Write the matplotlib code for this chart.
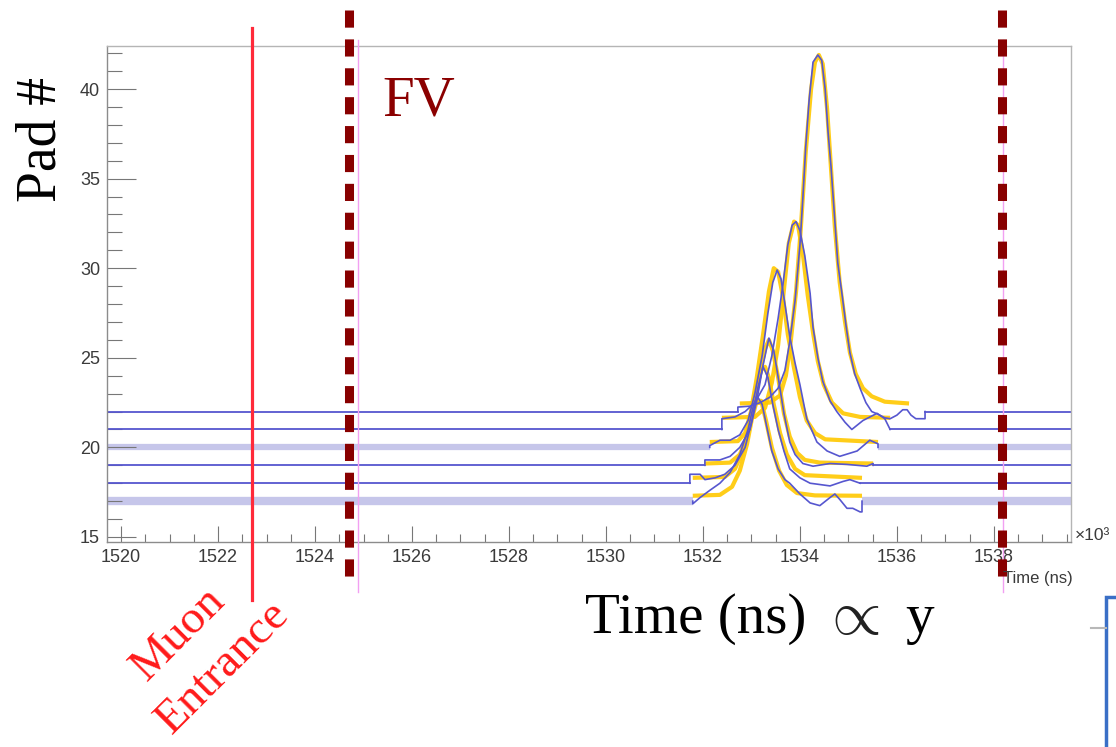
import matplotlib.pyplot as plt
from matplotlib.patches import Rectangle
from matplotlib.lines import Line2D

# axis range of the ROOT canvas (time axis is in ns, labels x10^3)
x_lo, x_hi = 1519.71, 1539.59
y_lo, y_hi = 14.72, 42.4

# pads that saw the track, and their baselines
pads = [17, 18, 19, 20, 21, 22]
light_pads = [17, 20]   # these baselines are drawn as a wide pale band

# raw waveforms (blue), pad# + amplitude
t17 = [1531.79, 1531.94, 1532.14, 1532.35, 1532.56, 1532.76, 1532.93, 1533.03, 1533.11, 1533.22,
       1533.32, 1533.42, 1533.55, 1533.69, 1533.79, 1534.00, 1534.21, 1534.41, 1534.62, 1534.72,
       1534.82, 1534.97, 1535.09, 1535.24, 1535.28]
v17 = [16.85, 17.2, 17.6, 18.0, 18.6, 19.6, 21.0, 22.2, 22.9, 22.4,
       21.1, 19.8, 18.8, 18.2, 18.0, 17.4, 16.9, 16.75, 17.2, 17.4,
       17.1, 16.6, 16.6, 16.4, 16.4]

t18 = [1531.73, 1531.94, 1532.04, 1532.25, 1532.45, 1532.66, 1532.87, 1533.01, 1533.13, 1533.24,
       1533.34, 1533.44, 1533.55, 1533.67, 1533.79, 1534.00, 1534.21, 1534.35, 1534.62, 1534.89,
       1535.03, 1535.24]
v18 = [18.5, 18.5, 18.2, 18.3, 18.5, 19.0, 20.0, 21.5, 23.3, 24.5,
       23.9, 22.4, 21.0, 19.8, 18.8, 18.3, 18.0, 17.95, 17.85, 18.1,
       18.2, 18.0]

t19 = [1532.04, 1532.35, 1532.56, 1532.76, 1532.97, 1533.11, 1533.24, 1533.36, 1533.46, 1533.57,
       1533.67, 1533.79, 1533.90, 1534.06, 1534.27, 1534.62, 1534.97, 1535.38, 1535.51]
v19 = [19.3, 19.3, 19.5, 20.0, 21.0, 22.6, 24.6, 26.1, 25.4, 23.6,
       21.9, 20.3, 19.6, 19.1, 18.95, 19.1, 19.05, 18.95, 19.1]

t20 = [1532.14, 1532.35, 1532.56, 1532.76, 1532.93, 1533.07, 1533.22, 1533.34, 1533.44, 1533.53,
       1533.61, 1533.69, 1533.79, 1533.90, 1534.00, 1534.14, 1534.35, 1534.56, 1534.82, 1535.18,
       1535.44, 1535.61]
v20 = [20.1, 20.4, 20.4, 20.7, 21.5, 23.0, 25.1, 27.5, 29.2, 29.9,
       29.4, 28.0, 26.2, 24.7, 23.5, 21.6, 20.3, 19.8, 19.5, 19.8,
       20.4, 20.2]

t21 = [1532.39, 1532.66, 1532.87, 1533.07, 1533.28, 1533.42, 1533.55, 1533.65, 1533.75, 1533.84,
       1533.92, 1534.00, 1534.10, 1534.21, 1534.27, 1534.37, 1534.47, 1534.62, 1534.76, 1534.93,
       1535.07, 1535.30, 1535.59, 1535.75, 1535.86]
v21 = [21.6, 21.7, 22.0, 22.5, 23.5, 25.1, 27.2, 29.1, 31.3, 32.4,
       32.6, 32.1, 30.7, 28.6, 26.7, 25.0, 23.7, 22.6, 22.0, 21.4,
       21.0, 21.5, 21.9, 21.6, 21.0]

t22 = [1532.72, 1532.97, 1533.18, 1533.38, 1533.55, 1533.69, 1533.79, 1533.90, 1534.00, 1534.06,
       1534.12, 1534.19, 1534.27, 1534.37, 1534.45, 1534.52, 1534.58, 1534.64, 1534.70, 1534.78,
       1534.87, 1534.95, 1535.03, 1535.13, 1535.24, 1535.36, 1535.48, 1535.61, 1535.75, 1535.86,
       1536.00, 1536.12, 1536.21, 1536.29, 1536.39, 1536.54, 1536.58]
v22 = [22.25, 22.3, 22.5, 22.8, 23.3, 24.3, 25.9, 28.2, 31.3, 33.9,
       36.8, 39.4, 41.5, 41.9, 41.6, 40.0, 37.6, 35.7, 33.4, 30.3,
       28.5, 26.8, 25.3, 24.1, 23.3, 22.5, 22.0, 21.85, 21.65, 21.6,
       21.8, 22.1, 22.1, 21.8, 21.6, 21.6, 21.6]

# pulse fits (yellow)
ft17 = [1531.79, 1532.35, 1532.60, 1532.76, 1532.91, 1533.01, 1533.11, 1533.20, 1533.30, 1533.42,
        1533.57, 1533.73, 1533.94, 1534.31, 1535.28]
fv17 = [17.3, 17.35, 17.8, 18.7, 20.2, 21.6, 22.6, 22.6, 21.5, 20.0,
        18.7, 17.9, 17.45, 17.32, 17.3]

ft18 = [1531.79, 1532.45, 1532.66, 1532.82, 1532.97, 1533.09, 1533.20, 1533.28, 1533.36, 1533.46,
        1533.59, 1533.73, 1533.90, 1534.10, 1535.28]
fv18 = [18.3, 18.35, 18.8, 19.8, 21.4, 23.1, 24.3, 24.5, 23.9, 22.4,
        20.8, 19.6, 18.8, 18.45, 18.3]

ft19 = [1532.04, 1532.56, 1532.76, 1532.91, 1533.05, 1533.18, 1533.28, 1533.36, 1533.44, 1533.55,
        1533.67, 1533.79, 1533.94, 1534.10, 1534.41, 1535.51]
fv19 = [19.1, 19.15, 19.6, 20.6, 22.4, 24.2, 25.5, 26.0, 25.4, 23.9,
        21.9, 20.6, 19.7, 19.3, 19.15, 19.1]

ft20 = [1532.14, 1532.72, 1532.87, 1532.99, 1533.11, 1533.24, 1533.36, 1533.46, 1533.55, 1533.65,
        1533.75, 1533.88, 1534.00, 1534.14, 1534.31, 1534.52, 1535.61]
fv20 = [20.3, 20.35, 20.8, 22.0, 23.9, 26.3, 28.7, 30.0, 29.8, 28.4,
        26.3, 24.4, 22.8, 21.5, 20.8, 20.45, 20.3]

ft21 = [1532.39, 1533.07, 1533.28, 1533.42, 1533.55, 1533.67, 1533.77, 1533.88, 1533.96, 1534.06,
        1534.16, 1534.27, 1534.37, 1534.49, 1534.66, 1534.89, 1535.24, 1535.86]
fv21 = [21.65, 21.7, 22.2, 23.6, 25.7, 28.8, 31.4, 32.6, 32.4, 30.8,
        28.5, 26.4, 24.8, 23.5, 22.5, 21.9, 21.7, 21.65]

ft22 = [1532.76, 1533.38, 1533.59, 1533.71, 1533.81, 1533.92, 1534.02, 1534.12, 1534.23, 1534.31,
        1534.39, 1534.47, 1534.56, 1534.64, 1534.72, 1534.82, 1534.93, 1535.03, 1535.15, 1535.30,
        1535.48, 1535.75, 1536.25]
fv22 = [22.45, 22.5, 22.9, 24.0, 25.9, 28.7, 32.3, 36.5, 40.0, 41.5,
        41.9, 41.4, 38.9, 35.6, 32.3, 29.2, 27.0, 25.3, 24.1, 23.3,
        22.85, 22.55, 22.45]

raw = [(t17, v17), (t18, v18), (t19, v19), (t20, v20), (t21, v21), (t22, v22)]
fits = [(ft17, fv17), (ft18, fv18), (ft19, fv19), (ft20, fv20), (ft21, fv21), (ft22, fv22)]

# vertical markers (time)
muon_t = 1522.70
fv_t = [1524.70, 1538.16]
edge_t = [1524.89, 1538.19]

W, H = 1116, 747
fig = plt.figure(figsize=(W / 100, H / 100), dpi=100)
ax = fig.add_axes([107 / W, 1 - 542 / H, (1071 - 107) / W, (542 - 46) / H])

blue = '#5656cf'
for p, (t, v), (ft, fv) in zip(pads, raw, fits):
    # baseline left and right of the readout window
    if p in light_pads:
        kw = dict(color='#c6c6ea', lw=4.5 if p == 20 else 6, solid_capstyle='butt', zorder=1)
    else:
        kw = dict(color=blue, lw=1.3, zorder=2)
    ax.plot([x_lo, t[0]], [p, p], **kw)
    ax.plot([t[-1], x_hi], [p, p], **kw)
    # fit below, waveform on top
    ax.plot(ft, fv, color='#ffc800', lw=3.0, alpha=0.9, zorder=3, solid_capstyle='butt')
    ax.plot([t[0]] + t + [t[-1]], [p] + v + [p], color=blue, lw=1.2, zorder=4)

ax.set_xticks([1520 + 2 * i for i in range(10)])
ax.set_xticks([1520 + 0.5 * i for i in range(40)], minor=True)
ax.set_yticks([15, 20, 25, 30, 35, 40])
ax.set_yticks(list(range(15, 43)), minor=True)
# limits after the ticks, set_xticks would widen them otherwise
ax.set_xlim(x_lo, x_hi)
ax.set_ylim(y_lo, y_hi)

for s in ax.spines.values():
    s.set_color('#8c8c8c')
    s.set_linewidth(1.0)
ax.spines['top'].set_color('#b5b5b5')
ax.spines['right'].set_color('#b5b5b5')

ax.tick_params(axis='x', which='major', direction='in', length=11.5, width=0.8, color='#777777',
               labelsize=13, labelcolor='#3a3a3a', pad=5)
ax.tick_params(axis='x', which='minor', direction='in', length=5.5, width=0.8, color='#777777')
ax.tick_params(axis='y', which='major', direction='in', length=21, width=0.8, color='#777777',
               labelsize=13, labelcolor='#3a3a3a', pad=5)
ax.tick_params(axis='y', which='minor', direction='in', length=10.5, width=0.8, color='#777777')
for lab in ax.get_xticklabels() + ax.get_yticklabels():
    lab.set_family('Liberation Sans')


# helper: pixel row of the slide -> axes fraction
def yf(py):
    return (542 - py) / 496


tr = ax.get_xaxis_transform()
# muon entrance (solid red)
ax.plot([muon_t, muon_t], [yf(28), yf(600)], transform=tr, color='#ff2a3a', lw=2.3,
        clip_on=False, zorder=6)
# thin pink frame edges
for t in edge_t:
    ax.plot([t, t], [yf(40), yf(592)], transform=tr, color='#f2a0f2', lw=1.0,
            clip_on=False, zorder=5)
# fiducial volume (thick dark red dashes)
for t in fv_t:
    ax.plot([t, t], [yf(10), yf(582)], transform=tr, color='#880000', lw=6.5,
            linestyle=(0, (1.9, 1.3)), clip_on=False, zorder=7)


def fx(px):
    return px / W


def fy(py):
    return 1 - py / H


serif = ['Liberation Serif', 'DejaVu Serif']
fig.text(fx(42), fy(140), 'Pad #', rotation=90, ha='center', va='center',
         fontsize=40, family=serif, color='black')
fig.text(fx(382), fy(115), 'FV', ha='left', va='baseline', fontsize=41, family=serif,
         color='#8b0000')
fig.text(fx(585), fy(633), 'Time (ns)', ha='left', va='baseline', fontsize=41, family=serif)
fig.text(fx(850), fy(616), r'$\propto$', ha='center', va='center', fontsize=46,
         math_fontfamily='cm', color='#222222')
fig.text(fx(905), fy(633), 'y', ha='left', va='baseline', fontsize=41, family=serif)

fig.text(fx(179), fy(634), 'Muon', rotation=45, rotation_mode='anchor', ha='center',
         va='center', fontsize=34, family=serif, color='#ff1a1a')
fig.text(fx(223), fy(668), 'Entrance', rotation=45, rotation_mode='anchor', ha='center',
         va='center', fontsize=34, family=serif, color='#ff1a1a')

fig.text(fx(1075), fy(536), '\u00d710\u00b3', ha='left', va='center', fontsize=12.5,
         family='Liberation Sans', color='#3a3a3a')
fig.text(fx(1073), fy(583), 'Time (ns)', ha='right', va='baseline', fontsize=12,
         family='Liberation Sans', color='#3a3a3a')

# bits of the next slide element at the lower right
fig.add_artist(Line2D([fx(1091), fx(1106)], [fy(628), fy(628)], color='#b8b8b8', lw=1.5))
fig.add_artist(Rectangle((fx(1106), fy(760)), 0.05, fy(597) - fy(760), fill=False,
                         edgecolor='#3a6fc6', lw=2.5))

plt.savefig('out.png', dpi=100)
